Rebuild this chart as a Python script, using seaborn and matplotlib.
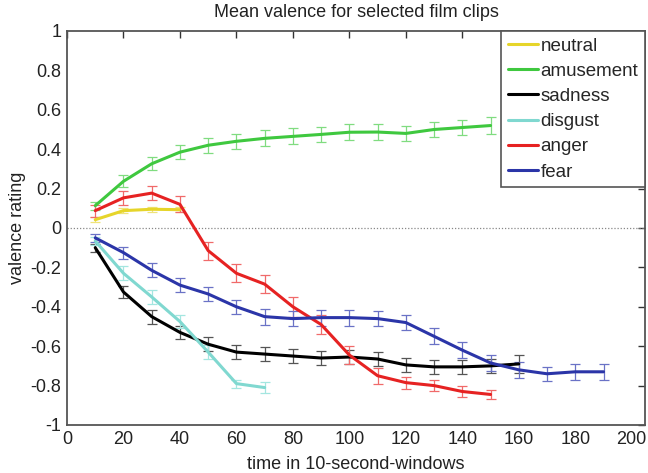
import matplotlib
matplotlib.use("Agg")
import matplotlib.pyplot as plt
import seaborn as sns
import numpy as np
import pandas as pd

# mean valence per 10-second window
emotions = ['neutral', 'amusement', 'sadness', 'disgust', 'anger', 'fear']

neutral_x = [10, 20, 30, 40]
neutral_y = [0.042, 0.088, 0.095, 0.093]
neutral_err = [0.012, 0.012, 0.012, 0.012]

amusement_x = [10, 20, 30, 40, 50, 60, 70, 80, 90, 100, 110, 120, 130, 140, 150]
amusement_y = [0.113, 0.237, 0.326, 0.385, 0.42, 0.44, 0.455, 0.465, 0.475, 0.486, 0.487, 0.48, 0.50, 0.51, 0.52]
amusement_err = [0.02, 0.03, 0.034, 0.036, 0.038, 0.038, 0.04, 0.04, 0.04, 0.04, 0.04, 0.04, 0.04, 0.04, 0.041]

sadness_x = [10, 20, 30, 40, 50, 60, 70, 80, 90, 100, 110, 120, 130, 140, 150, 160]
sadness_y = [-0.10, -0.325, -0.45, -0.53, -0.59, -0.63, -0.64, -0.65, -0.66, -0.655, -0.665, -0.695, -0.705, -0.705, -0.70, -0.69]
sadness_err = [0.02, 0.03, 0.036, 0.035, 0.035, 0.035, 0.035, 0.035, 0.035, 0.035, 0.035, 0.035, 0.035, 0.035, 0.035, 0.045]

disgust_x = [10, 20, 30, 40, 50, 60, 70]
disgust_y = [-0.066, -0.23, -0.35, -0.475, -0.63, -0.79, -0.81]
disgust_err = [0.02, 0.035, 0.035, 0.035, 0.035, 0.02, 0.03]

anger_x = [10, 20, 30, 40, 50, 60, 70, 80, 90, 100, 110, 120, 130, 140, 150]
anger_y = [0.088, 0.153, 0.177, 0.12, -0.115, -0.23, -0.285, -0.40, -0.49, -0.645, -0.75, -0.785, -0.80, -0.83, -0.845]
anger_err = [0.03, 0.035, 0.037, 0.041, 0.045, 0.045, 0.045, 0.05, 0.05, 0.045, 0.04, 0.03, 0.03, 0.03, 0.025]

fear_x = [10, 20, 30, 40, 50, 60, 70, 80, 90, 100, 110, 120, 130, 140, 150, 160, 170, 180, 190]
fear_y = [-0.05, -0.125, -0.215, -0.29, -0.335, -0.40, -0.45, -0.46, -0.455, -0.455, -0.46, -0.48, -0.55, -0.62, -0.685, -0.72, -0.74, -0.73, -0.73]
fear_err = [0.02, 0.03, 0.035, 0.035, 0.035, 0.035, 0.04, 0.04, 0.04, 0.04, 0.04, 0.04, 0.04, 0.04, 0.04, 0.04, 0.035, 0.04, 0.04]

line_colors = ['#e6d52a', '#3fc83f', '#000000', '#80d8d0', '#e62222', '#2b35a8']
err_colors = ['#efe37a', '#80dc80', '#555555', '#a4e6e0', '#f06a6a', '#6a72c6']

series = {
    'neutral': (neutral_x, neutral_y, neutral_err),
    'amusement': (amusement_x, amusement_y, amusement_err),
    'sadness': (sadness_x, sadness_y, sadness_err),
    'disgust': (disgust_x, disgust_y, disgust_err),
    'anger': (anger_x, anger_y, anger_err),
    'fear': (fear_x, fear_y, fear_err),
}

rows = []
for name in emotions:
    xs, ys, es = series[name]
    for x, y, e in zip(xs, ys, es):
        rows.append({'time': x, 'valence': y, 'err': e, 'clip': name})
df = pd.DataFrame(rows)

sns.set_style('white')
plt.rcParams['font.family'] = ['Liberation Sans', 'DejaVu Sans']

fig = plt.figure(figsize=(6.48, 4.73), dpi=100)
ax = fig.add_axes([0.1034, 0.1015, 0.8920, 0.8330])

# zero reference line
ax.axhline(0, color='#888888', linestyle=(0, (1, 1.5)), linewidth=0.9, zorder=1)

# error bars first, lighter colour
for name, ec in zip(emotions, err_colors):
    sub = df[df['clip'] == name]
    ax.errorbar(sub['time'], sub['valence'], yerr=sub['err'], fmt='none',
                ecolor=ec, elinewidth=0.9, capsize=3.6, capthick=0.9, zorder=2)

sns.lineplot(data=df, x='time', y='valence', hue='clip', hue_order=emotions,
             palette=line_colors, linewidth=2.2, ax=ax, zorder=3, legend=True)

ax.set_xlim(0, 204.7)
ax.set_ylim(-1, 1)
ax.set_xticks(np.arange(0, 201, 20))
ax.set_yticks(np.arange(-1, 1.01, 0.2))
ax.set_yticklabels(['-1', '-0.8', '-0.6', '-0.4', '-0.2', '0', '0.2', '0.4', '0.6', '0.8', '1'])

ax.tick_params(direction='in', length=5, width=1, top=True, right=True,
               labelsize=13, color='#333333', labelcolor='#222222', pad=4)
for sp in ax.spines.values():
    sp.set_color('#555555')
    sp.set_linewidth(1.3)

ax.set_title('Mean valence for selected film clips', fontsize=13, color='#222222', pad=10)
ax.set_xlabel('time in 10-second-windows', fontsize=13, color='#222222', labelpad=6)
ax.set_ylabel('valence rating', fontsize=13, color='#222222', labelpad=3)

leg = ax.legend(loc='upper right', bbox_to_anchor=(1, 1), borderaxespad=0,
                fontsize=13.5, handlelength=1.6, handletextpad=0.15,
                labelspacing=0.43, borderpad=0.35, fancybox=False, framealpha=1,
                edgecolor='#555555')
leg.get_frame().set_linewidth(1.2)
for line in leg.get_lines():
    line.set_linewidth(2.2)

fig.savefig('out.png', dpi=100)
